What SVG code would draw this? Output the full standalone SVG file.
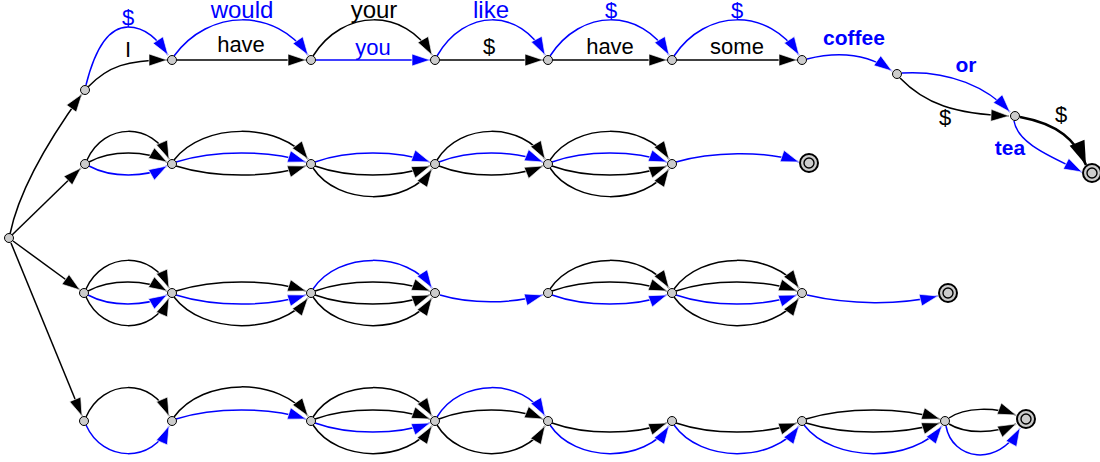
<svg xmlns="http://www.w3.org/2000/svg" width="1100" height="462" viewBox="0 0 1100 462">
  <style>
    .e { fill: none; stroke: #000; stroke-width: 1.5; marker-end: url(#ah); }
    .b { fill: none; stroke: #0000ff; stroke-width: 1.5; marker-end: url(#ahb); }
    .thick { stroke-width: 2.6; marker-end: url(#ahbig); }
    .st { fill: #cccccc; stroke: #000; stroke-width: 1; }
    .fo { fill: #cccccc; stroke: #000; stroke-width: 2; }
    .fi { fill: #cccccc; stroke: #000; stroke-width: 1.4; }
    text { font-family: "Liberation Sans", Arial, sans-serif; text-anchor: middle; font-size: 22px; }
    .lb { fill: #0000ff; }
    .lk { fill: #000; }
    .arc { font-size: 24px; }
    .bold { font-weight: bold; font-size: 21px; }
  </style>
  <defs>
    <marker id="ah" viewBox="0 0 18 12" refX="18" refY="6" markerWidth="18" markerHeight="12" markerUnits="userSpaceOnUse" orient="auto" overflow="visible">
      <path d="M0,0 L18,6 L0,12 z" fill="#000" stroke="#fff" stroke-width="0.6"/>
    </marker>
    <marker id="ahb" viewBox="0 0 18 12" refX="18" refY="6" markerWidth="18" markerHeight="12" markerUnits="userSpaceOnUse" orient="auto" overflow="visible">
      <path d="M0,0 L18,6 L0,12 z" fill="#0000ff" stroke="#fff" stroke-width="0.6"/>
    </marker>
    <marker id="ahbig" viewBox="0 0 24 16" refX="24" refY="8" markerWidth="24" markerHeight="16" markerUnits="userSpaceOnUse" orient="auto" overflow="visible">
      <path d="M0,0 L24,8 L0,16 z" fill="#000"/>
    </marker>
  </defs>

  <g id="connectors">
    <!-- from the start state -->
    <path class="e" d="M10,234 C18,195 45,145 82,94"/>
    <path class="e" d="M12,235 L81,168"/>
    <path class="e" d="M13,241 L80,290"/>
    <path class="e" d="M11,243 L82,416"/>

    <!-- top path: I would like to have some coffee or tea -->
    <path class="e" d="M88,87 C108,66 128,60 167,60"/>
    <path class="b" d="M86,85 C96,45 110,27 128,27 C146,27 158,40 168,55"/>
    <path class="e" d="M177,60 L306,60"/>
    <path class="b" d="M174,56 C209,8 276,8 308,55"/>
    <path class="b" d="M316,60 L430,60"/>
    <path class="e" d="M313,56 C343,8 405,8 432,55"/>
    <path class="e" d="M440,60 L543,60"/>
    <path class="b" d="M437,56 C465,8 520,8 545,55"/>
    <path class="e" d="M553,60 L667,60"/>
    <path class="b" d="M550,56 C581,8 641,8 669,55"/>
    <path class="e" d="M677,60 L797,60"/>
    <path class="b" d="M674,56 C706,8 769,8 799,55"/>
    <path class="b" d="M807,59 C835,52 865,52 892,71"/>
    <path class="b" d="M902,73 C950,70 988,88 1010,112"/>
    <path class="e" d="M900,78 C925,104 955,114 1009,116"/>
    <path class="e thick" d="M1020,117 C1058,124 1076,140 1086,165"/>
    <path class="b" d="M1014,121 C1018,145 1055,158 1082,172"/>

    <!-- second path -->
    <path class="e" d="M87,160 C104,122 153,122 169,159"/>
    <path class="e" d="M89,162 C111,150 146,150 167,162"/>
    <path class="b" d="M89,166 C111,178 146,178 167,166"/>
    <path class="e" d="M174,160 C203,122 280,122 308,159"/>
    <path class="b" d="M176,162 C214,150 269,150 306,162"/>
    <path class="e" d="M176,166 C214,178 269,178 306,166"/>
    <path class="b" d="M315,162 C348,150 398,150 430,162"/>
    <path class="e" d="M315,166 C348,178 398,178 430,166"/>
    <path class="e" d="M313,168 C338,206 408,206 432,169"/>
    <path class="e" d="M437,160 C460,122 523,122 545,159"/>
    <path class="b" d="M439,162 C469,150 514,150 543,162"/>
    <path class="e" d="M439,166 C469,178 514,178 543,166"/>
    <path class="e" d="M550,160 C575,122 645,122 669,159"/>
    <path class="b" d="M552,162 C585,150 635,150 667,162"/>
    <path class="e" d="M552,166 C585,178 635,178 667,166"/>
    <path class="e" d="M550,168 C575,206 645,206 669,169"/>
    <path class="b" d="M676,162 C710,152 765,150 799,162"/>

    <!-- third path -->
    <path class="e" d="M86,289 C103,251 153,251 169,288"/>
    <path class="e" d="M88,291 C110,279 146,279 167,291"/>
    <path class="b" d="M88,295 C110,307 146,307 167,295"/>
    <path class="e" d="M86,297 C103,335 153,335 169,298"/>
    <path class="e" d="M176,291 C214,279 269,279 306,291"/>
    <path class="b" d="M176,295 C214,307 269,307 306,295"/>
    <path class="e" d="M174,297 C203,335 280,335 308,298"/>
    <path class="b" d="M313,289 C338,251 408,251 432,288"/>
    <path class="e" d="M315,291 C348,279 398,279 430,291"/>
    <path class="e" d="M315,295 C348,307 398,307 430,295"/>
    <path class="e" d="M313,297 C338,335 408,335 432,298"/>
    <path class="b" d="M440,295 C470,304 510,304 543,295"/>
    <path class="e" d="M550,289 C575,251 645,251 669,288"/>
    <path class="e" d="M552,291 C585,279 635,279 667,291"/>
    <path class="b" d="M552,295 C585,307 635,307 667,295"/>
    <path class="e" d="M674,289 C701,251 773,251 799,288"/>
    <path class="e" d="M676,291 C711,279 763,279 797,291"/>
    <path class="b" d="M676,295 C711,307 763,307 797,295"/>
    <path class="e" d="M674,297 C701,335 773,335 799,298"/>
    <path class="b" d="M807,295 C850,305 900,305 938,296"/>

    <!-- fourth path -->
    <path class="e" d="M86,417 C103,378 153,378 169,416"/>
    <path class="b" d="M86,425 C103,463 153,463 169,426"/>
    <path class="e" d="M174,417 C203,377 280,377 308,416"/>
    <path class="b" d="M176,419 C214,407 269,407 306,419"/>
    <path class="e" d="M313,417 C338,378 408,378 432,416"/>
    <path class="e" d="M315,419 C348,407 398,407 430,419"/>
    <path class="b" d="M315,423 C348,435 398,435 430,423"/>
    <path class="e" d="M313,425 C338,463 408,463 432,426"/>
    <path class="b" d="M437,417 C460,378 523,378 545,416"/>
    <path class="e" d="M439,419 C469,407 514,407 543,419"/>
    <path class="e" d="M437,425 C460,463 523,463 545,426"/>
    <path class="e" d="M552,423 C585,435 635,435 667,423"/>
    <path class="b" d="M550,425 C575,463 645,463 669,426"/>
    <path class="e" d="M676,423 C711,435 763,435 797,423"/>
    <path class="b" d="M674,425 C701,463 773,463 799,426"/>
    <path class="e" d="M806,419 C845,407 902,407 940,419"/>
    <path class="e" d="M806,423 C845,435 902,435 940,423"/>
    <path class="b" d="M804,425 C833,463 914,463 942,426"/>
    <path class="e" d="M949,418 C965,407 995,407 1016,415"/>
    <path class="e" d="M949,424 C965,434 995,434 1016,424"/>
    <path class="b" d="M946,426 C952,460 998,468 1020,428"/>
  </g>

  <g id="edge-labels">
    <text class="lb" x="128" y="24.5">$</text>
    <text class="lk" x="128" y="57">I</text>
    <text class="lb arc" x="242" y="18">would</text>
    <text class="lk" x="241" y="52">have</text>
    <text class="lk arc" x="374" y="18">your</text>
    <text class="lb" x="373" y="55">you</text>
    <text class="lb arc" x="491" y="18">like</text>
    <text class="lk" x="489" y="54">$</text>
    <text class="lb" x="611" y="17.5">$</text>
    <text class="lk" x="610" y="54">have</text>
    <text class="lb" x="737" y="17.5">$</text>
    <text class="lk" x="737" y="54">some</text>
    <text class="lb bold" x="854" y="45">coffee</text>
    <text class="lb bold" x="966" y="71.5">or</text>
    <text class="lk" x="945" y="125">$</text>
    <text class="lk" x="1061" y="122">$</text>
    <text class="lb bold" x="1010" y="155">tea</text>
  </g>

  <!-- states -->
  <g id="s0"><circle class="st" cx="9" cy="238" r="4.5"/></g>

  <g id="t0"><circle class="st" cx="85" cy="90" r="4.5"/></g>
  <g id="t1"><circle class="st" cx="172" cy="60" r="4.5"/></g>
  <g id="t2"><circle class="st" cx="311" cy="60" r="4.5"/></g>
  <g id="t3"><circle class="st" cx="435" cy="60" r="4.5"/></g>
  <g id="t4"><circle class="st" cx="548" cy="60" r="4.5"/></g>
  <g id="t5"><circle class="st" cx="672" cy="60" r="4.5"/></g>
  <g id="t6"><circle class="st" cx="802" cy="60" r="4.5"/></g>
  <g id="t7"><circle class="st" cx="897" cy="74" r="4.5"/></g>
  <g id="t8"><circle class="st" cx="1015" cy="116" r="4.5"/></g>
  <g id="t9"><circle class="fo" cx="1092" cy="173" r="9"/><circle class="fi" cx="1092" cy="173" r="5"/></g>

  <g id="u0"><circle class="st" cx="85" cy="164" r="4.5"/></g>
  <g id="u1"><circle class="st" cx="172" cy="164" r="4.5"/></g>
  <g id="u2"><circle class="st" cx="311" cy="164" r="4.5"/></g>
  <g id="u3"><circle class="st" cx="435" cy="164" r="4.5"/></g>
  <g id="u4"><circle class="st" cx="548" cy="164" r="4.5"/></g>
  <g id="u5"><circle class="st" cx="672" cy="164" r="4.5"/></g>
  <g id="u6"><circle class="fo" cx="809" cy="163" r="9"/><circle class="fi" cx="809" cy="163" r="5"/></g>

  <g id="v0"><circle class="st" cx="84" cy="293" r="4.5"/></g>
  <g id="v1"><circle class="st" cx="172" cy="293" r="4.5"/></g>
  <g id="v2"><circle class="st" cx="311" cy="293" r="4.5"/></g>
  <g id="v3"><circle class="st" cx="435" cy="293" r="4.5"/></g>
  <g id="v4"><circle class="st" cx="548" cy="293" r="4.5"/></g>
  <g id="v5"><circle class="st" cx="672" cy="293" r="4.5"/></g>
  <g id="v6"><circle class="st" cx="802" cy="293" r="4.5"/></g>
  <g id="v7"><circle class="fo" cx="948" cy="293" r="9"/><circle class="fi" cx="948" cy="293" r="5"/></g>

  <g id="w0"><circle class="st" cx="84" cy="421" r="4.5"/></g>
  <g id="w1"><circle class="st" cx="172" cy="421" r="4.5"/></g>
  <g id="w2"><circle class="st" cx="311" cy="421" r="4.5"/></g>
  <g id="w3"><circle class="st" cx="435" cy="421" r="4.5"/></g>
  <g id="w4"><circle class="st" cx="548" cy="421" r="4.5"/></g>
  <g id="w5"><circle class="st" cx="672" cy="421" r="4.5"/></g>
  <g id="w6"><circle class="st" cx="802" cy="421" r="4.5"/></g>
  <g id="w7"><circle class="st" cx="945" cy="421" r="4.5"/></g>
  <g id="w8"><circle class="fo" cx="1026" cy="419" r="9"/><circle class="fi" cx="1026" cy="419" r="5"/></g>
</svg>
